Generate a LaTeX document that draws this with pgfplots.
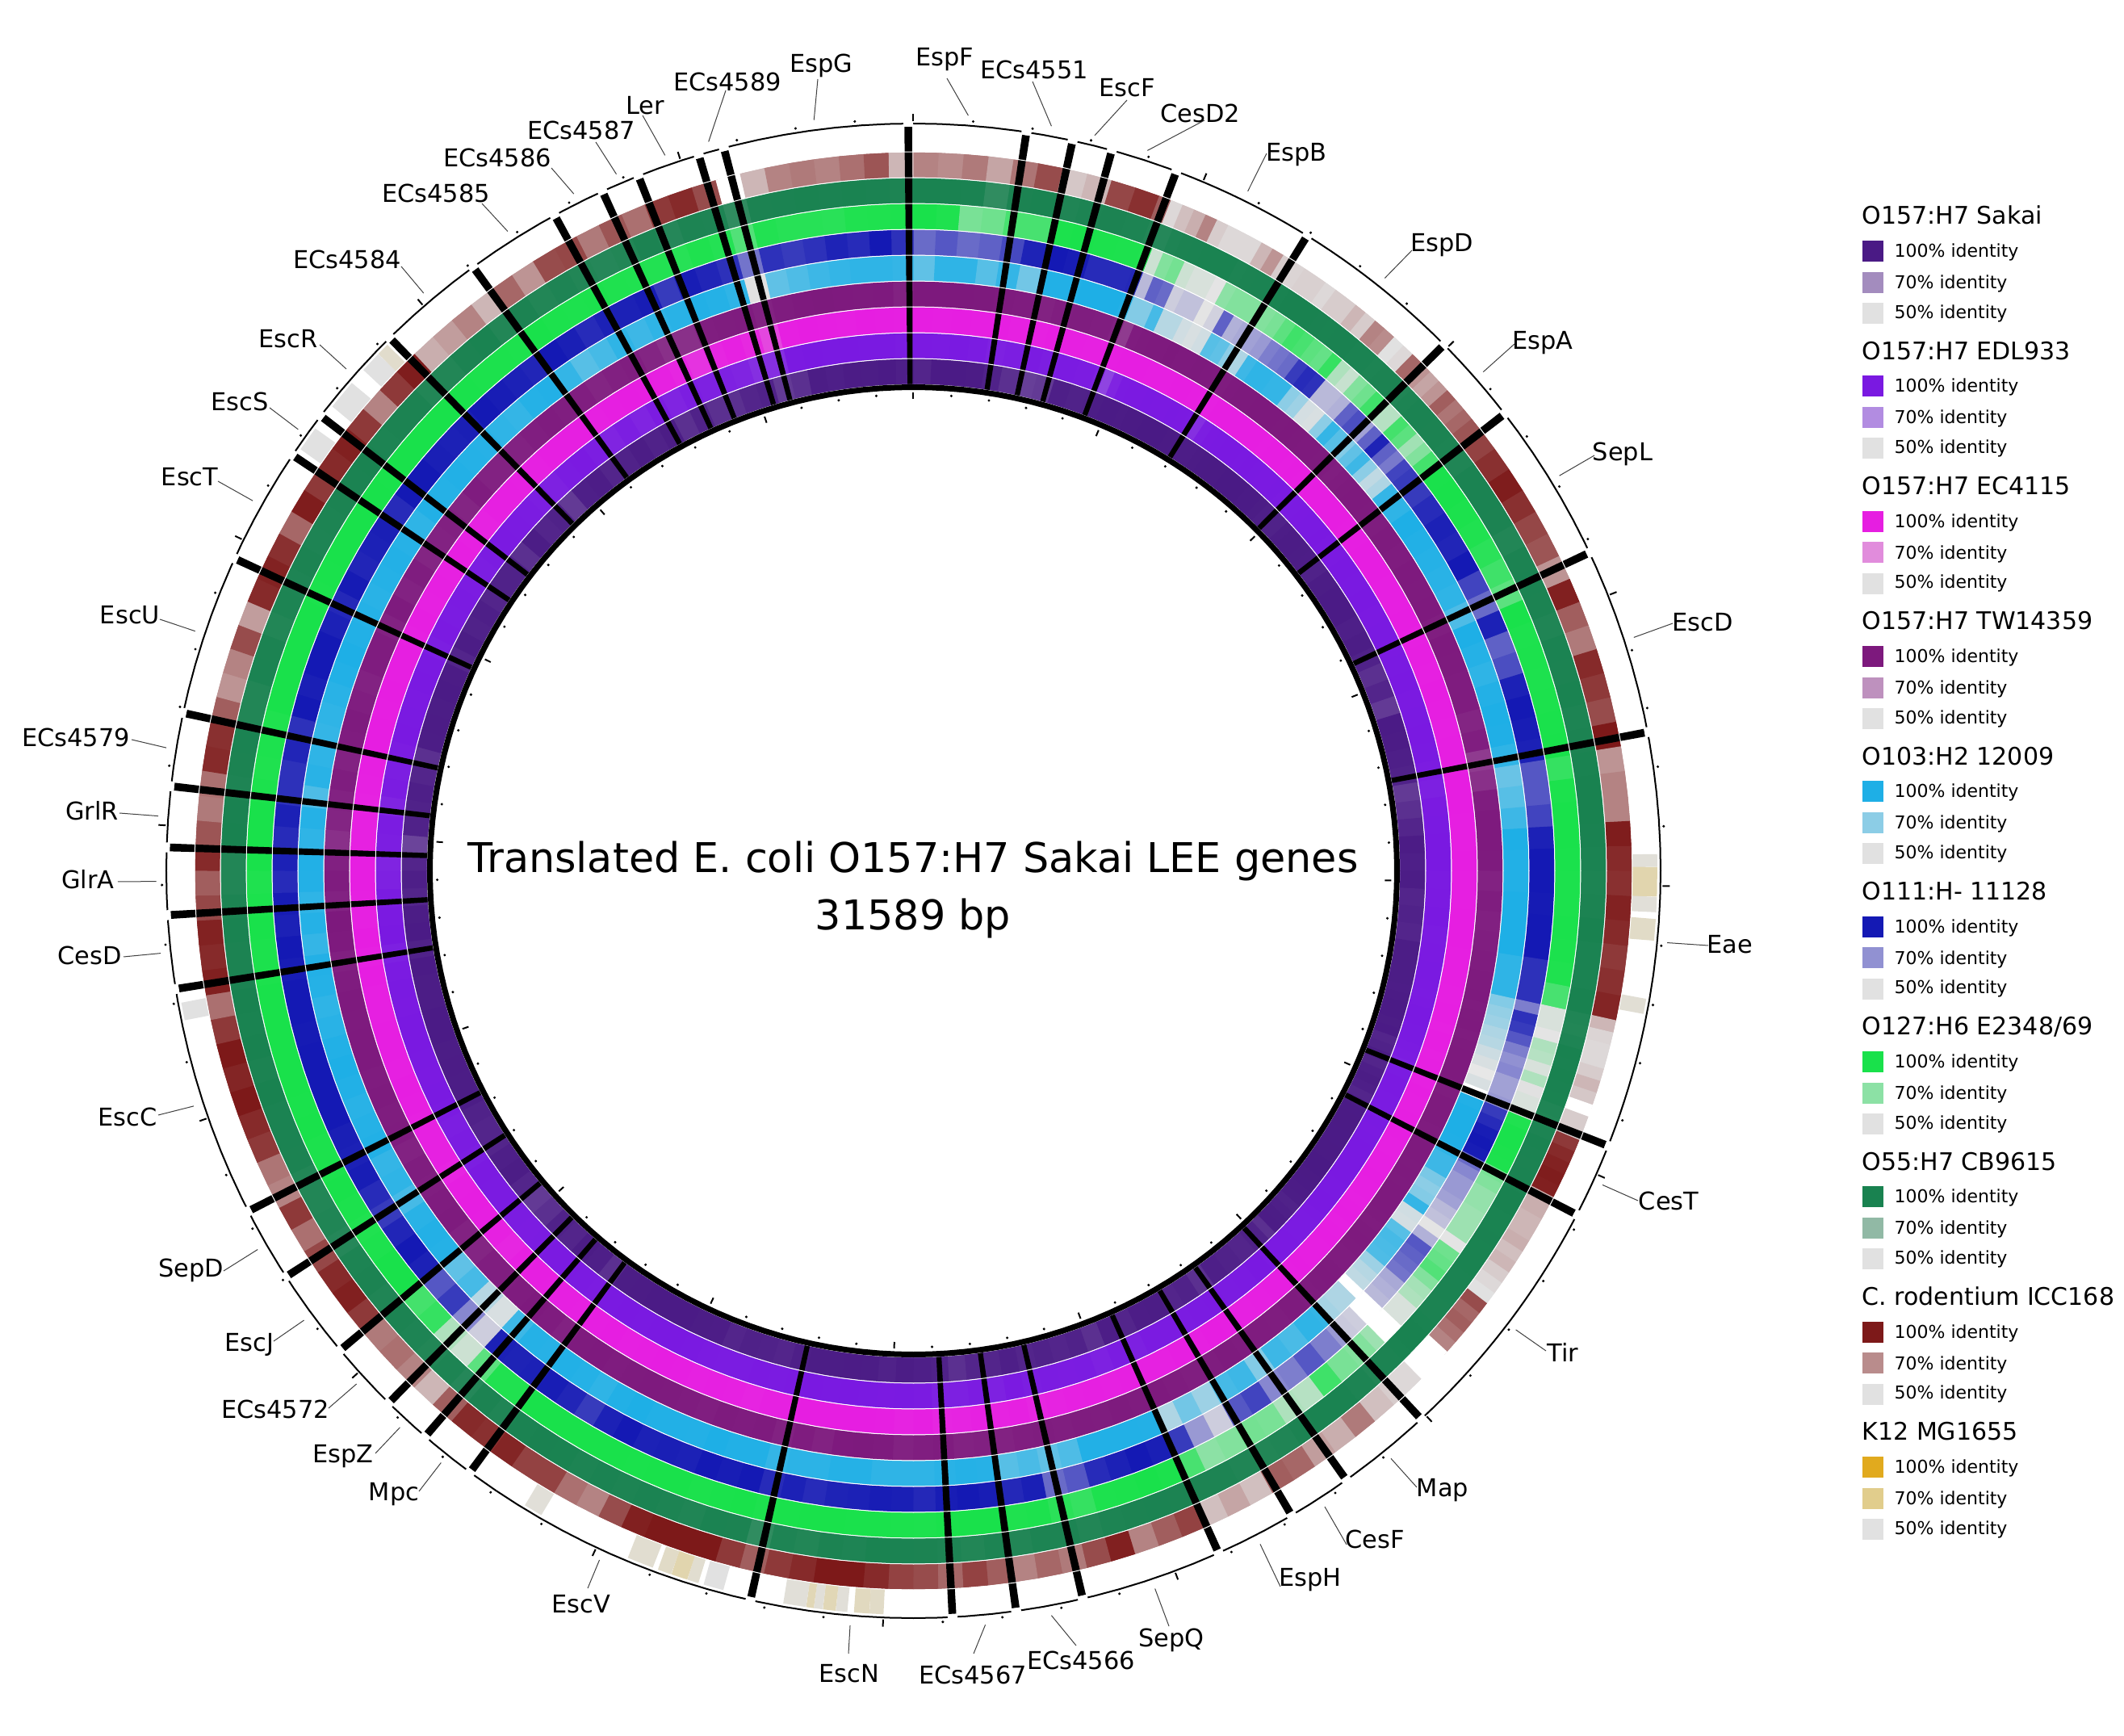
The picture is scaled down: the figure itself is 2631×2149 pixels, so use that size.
\documentclass[border=0pt]{standalone}
\usepackage{fontspec}
\setmainfont{DejaVu Sans}
\usepackage{pgfplots}
\usepackage{pgfplotstable}
\pgfplotsset{compat=1.18}
\usepgfplotslibrary{polar}
\definecolor{gr50}{HTML}{E1E1E1}
\definecolor{s100}{HTML}{4A1A85}\definecolor{s70}{HTML}{A38CBE}
\definecolor{e100}{HTML}{7A19E1}\definecolor{e70}{HTML}{B28CE1}
\definecolor{c100}{HTML}{E61EE1}\definecolor{c70}{HTML}{E18CDC}
\definecolor{t100}{HTML}{7D197D}\definecolor{t70}{HTML}{BE91BE}
\definecolor{o100}{HTML}{1EAFE6}\definecolor{o70}{HTML}{8CCDE6}
\definecolor{b100}{HTML}{1419B4}\definecolor{b70}{HTML}{9191D2}
\definecolor{g100}{HTML}{19E14B}\definecolor{g70}{HTML}{8CE1A5}
\definecolor{d100}{HTML}{198250}\definecolor{d70}{HTML}{91B9A5}
\definecolor{r100}{HTML}{7D1919}\definecolor{r70}{HTML}{B98C8C}
\definecolor{k100}{HTML}{E1AA1E}\definecolor{k70}{HTML}{E1CD8C}
\newcommand\mkmap[3]{\pgfplotsset{colormap={cm#1}{color(0cm)=(white) color(5cm)=(gr50) color(7cm)=(#170) color(9cm)=(#1100!#2!#170) color(9.5cm)=(#1100!#3!#170) color(10cm)=(#1100)}}}
\mkmap{s}{90}{97}\mkmap{e}{90}{97}\mkmap{c}{90}{97}\mkmap{t}{90}{97}\mkmap{d}{90}{97}
\mkmap{o}{80}{92}\mkmap{b}{80}{92}\mkmap{g}{84}{94}\mkmap{r}{80}{92}\mkmap{k}{80}{92}
\pgfplotstableread{
th s e c t o b g d r
0 90 98 100 100 80 78 100 98 72
2 98 97 99 100 92 82 96 98 70
4 98 99 100 100 92 78 74 97 74
6 97 96 99 99 82 80 76 88 64
8 92 92 98 97 90 85 84 96 75
10 88 94 95 96 76 95 84 98 84
12 85 97 96 92 98 100 98 93 56
14 86 94 98 94 98 98 99 95 60
16 94 97 97 95 100 92 98 96 85
18 92 95 96 94 100 92 97 95 90
20 93 92 97 92 97 93 96 92 80
21 96 84 99 86 72 60 55 90 52
22 98 90 100 96 72 80 72 94 58
23 98 97 100 97 86 78 75 96 62
24 97 98 100 98 60 55 55 97 72
25 99 98 99 98 60 58 52 98 55
26 99 99 99 100 54 58 52 98 52
27 100 98 98 98 52 45 45 98 52
28 100 98 100 98 54 54 70 95 52
29 100 99 100 99 82 80 72 96 60
30 99 98 99 98 80 62 72 97 68
31 98 97 97 97 70 64 72 97 55
32 95 88 97 96 62 66 72 98 53
33 95 94 100 98 88 68 74 100 54
34 97 98 100 99 92 74 80 100 54
35 98 99 100 99 92 76 86 100 52
36 99 100 100 100 90 78 84 99 55
37 99 100 100 100 90 88 80 98 55
38 100 99 100 100 70 92 78 99 60
39 100 100 99 99 66 90 88 99 55
40 100 99 100 100 53 60 62 97 72
41 98 98 100 99 52 60 56 97 70
42 98 98 99 98 70 62 72 95 50
43 96 99 100 98 90 80 76 96 52
44 94 97 99 97 82 84 86 96 78
45 92 96 98 96 72 66 60 93 68
46 92 97 100 94 80 80 60 95 64
47 95 98 100 96 88 95 85 97 68
48 97 99 100 97 70 80 80 97 80
49 97 99 100 98 58 75 65 96 75
50 96 100 100 98 62 86 72 96 78
51 95 98 99 97 90 88 85 95 82
52 92 98 98 95 92 88 99 93 86
54 96 100 100 97 100 92 100 97 90
56 98 99 100 96 98 96 98 97 98
58 98 100 98 98 96 94 95 96 90
60 94 98 99 97 94 100 90 92 85
62 96 99 100 98 92 86 86 96 82
64 92 98 97 94 84 78 80 97 68
66 88 99 99 98 100 96 100 96 96
68 90 100 97 97 96 80 97 93 80
70 86 98 100 96 92 84 98 97 74
72 98 99 98 96 97 96 97 96 92
74 97 100 97 90 100 100 98 98 88
76 94 99 98 94 99 98 99 95 84
78 92 95 99 86 92 96 100 96 100
80 86 93 100 88 78 82 88 98 68
82 88 98 100 95 82 82 98 100 72
84 90 99 99 98 88 86 100 100 72
86 97 100 98 98 100 96 100 99 98
88 94 100 100 97 98 100 99 97 92
90 96 97 99 92 98 100 98 95 90
92 90 98 98 95 100 99 98 96 95
94 92 100 100 93 100 100 99 100 92
96 90 97 100 94 100 100 98 97 88
98 96 98 99 96 92 90 96 97 90
100 96 99 98 97 92 90 84 100 94
102 96 98 97 98 72 74 52 93 60
103 95 97 97 96 68 90 52 92 53
104 97 98 98 97 66 88 45 94 52
105 98 100 98 98 62 82 62 100 52
106 98 100 96 96 60 74 60 99 55
107 96 99 98 97 55 70 52 100 60
108 98 99 99 98 52 72 62 99 56
109 90 97 95 98 40 66 50 98 0
110 92 95 97 98 52 66 52 93 55
111 96 92 97 97 0 68 52 92 55
112 90 96 95 95 98 88 95 95 88
113 94 98 98 97 100 92 99 98 92
114 96 98 97 97 100 98 99 97 95
115 94 97 97 97 100 100 98 96 98
116 90 97 98 96 99 98 97 97 96
117 96 96 97 97 92 78 74 97 62
118 98 99 98 98 88 72 72 100 62
119 99 98 97 98 88 68 68 100 60
120 99 99 97 97 74 68 68 98 60
121 98 100 98 98 70 66 66 98 62
122 98 100 99 97 72 60 66 99 58
123 99 100 100 98 90 58 66 98 60
124 99 100 99 98 54 45 45 98 55
125 100 100 98 98 53 62 76 98 52
126 100 99 97 97 82 82 78 97 50
127 99 99 99 96 86 80 82 97 84
128 98 100 100 97 85 78 72 97 78
129 97 100 97 98 84 76 64 96 80
130 96 98 99 97 66 64 62 96 76
131 92 97 100 96 60 62 52 98 72
132 94 97 98 96 58 60 52 100 0
133 96 97 98 97 0 0 0 100 0
134 97 98 99 98 62 0 0 98 0
135 88 98 100 97 62 55 66 96 52
136 92 98 99 96 64 56 72 96 52
137 93 97 98 96 90 68 72 92 55
138 90 100 98 97 92 74 74 95 58
140 92 97 97 95 85 82 86 98 74
142 94 96 96 96 88 74 60 98 62
144 88 98 98 96 72 72 62 96 66
146 92 97 100 97 88 86 74 93 78
148 90 96 97 95 86 82 75 92 80
150 96 97 98 94 66 55 72 93 58
152 95 97 96 96 76 68 70 95 64
154 90 93 96 98 62 88 84 95 58
156 95 96 97 96 97 97 98 96 86
158 88 92 96 97 98 100 100 97 80
160 92 96 97 95 98 96 98 96 72
162 90 95 96 96 98 92 97 95 96
164 92 96 94 94 84 82 88 92 84
166 90 94 92 95 80 78 90 95 74
168 94 98 95 94 85 97 97 95 78
170 90 92 94 92 82 93 96 92 72
172 90 95 96 93 95 98 100 95 80
174 88 93 93 92 96 100 100 92 86
176 92 92 92 96 94 98 99 94 78
178 94 97 97 94 92 93 97 96 84
180 96 99 94 92 92 97 98 97 86
182 92 98 99 97 92 98 99 98 92
184 96 99 100 99 96 96 99 94 100
186 97 100 100 98 96 95 100 96 100
188 96 99 100 92 93 92 100 92 92
190 96 100 100 96 93 96 99 94 88
192 94 98 96 92 90 92 97 88 80
194 90 97 96 97 98 100 100 96 88
196 92 98 93 96 98 98 99 97 100
198 93 96 96 97 100 100 98 93 100
200 90 96 97 94 97 96 100 95 100
202 95 97 96 96 98 97 100 97 96
204 96 99 98 97 98 96 99 95 84
206 98 100 100 98 100 100 100 97 72
208 98 100 98 97 98 96 100 95 76
210 98 99 97 96 92 88 100 98 86
212 97 100 100 98 96 94 100 99 86
214 96 99 99 97 98 98 100 97 94
216 88 95 96 92 95 96 95 93 90
218 94 97 97 96 96 95 95 96 92
220 96 98 97 98 88 96 80 90 80
222 90 98 98 96 52 55 55 95 60
224 92 96 95 94 60 72 62 92 72
226 88 95 92 94 86 88 88 94 76
228 86 96 96 90 80 82 85 96 74
230 90 97 99 92 96 96 100 93 88
232 96 97 100 97 97 100 100 96 96
234 94 98 98 96 94 94 97 95 92
236 90 94 93 94 86 88 95 90 85
238 90 96 95 95 92 92 98 93 76
240 92 94 96 92 90 98 100 92 88
242 96 97 96 96 98 96 98 92 72
244 96 99 98 95 96 97 98 96 75
246 97 98 100 97 94 100 100 97 88
248 96 99 97 96 98 100 99 97 92
250 98 100 99 98 100 100 100 100 100
252 98 100 98 98 98 100 100 96 94
254 96 98 97 97 94 99 100 100 100
256 96 99 97 98 92 100 100 98 88
258 98 97 100 96 96 100 100 100 76
260 92 93 95 93 97 98 98 96 96
262 98 100 100 98 90 100 98 96 92
264 96 98 96 100 96 96 100 98 95
266 90 96 96 92 92 98 98 95 85
268 94 92 100 96 97 92 96 92 80
270 90 90 98 93 98 96 100 92 92
272 84 94 96 88 92 92 100 100 82
274 92 96 96 90 96 96 100 99 74
276 92 90 94 92 84 90 98 94 76
278 94 96 95 95 94 90 96 96 92
280 90 94 97 92 92 94 97 97 90
282 88 95 100 96 90 90 96 92 80
284 96 100 100 97 92 100 100 92 68
286 97 99 98 94 94 97 100 97 72
288 96 98 100 92 98 100 100 96 84
290 98 100 98 96 100 100 100 92 66
292 97 99 99 96 98 96 100 95 92
294 90 94 96 92 96 93 98 94 95
296 96 98 98 97 94 99 99 96 90
298 92 96 96 92 96 94 100 94 78
300 94 97 97 95 97 96 100 95 98
302 90 95 96 90 95 97 100 96 88
304 92 94 98 92 92 92 100 97 92
306 92 96 96 93 98 100 99 98 96
308 88 98 94 90 96 100 100 95 88
310 96 97 97 96 98 97 100 96 72
312 90 96 97 92 96 96 100 96 88
314 92 94 95 92 95 97 100 92 98
316 86 92 96 92 92 100 99 92 62
318 94 96 98 94 90 98 98 96 66
320 95 98 99 96 96 96 98 98 72
322 90 94 98 94 97 94 97 92 60
324 92 90 96 94 90 100 100 96 78
326 96 94 98 90 82 97 98 92 68
328 92 90 100 93 86 92 97 94 84
330 96 95 98 94 92 96 98 92 85
332 88 90 96 90 88 96 96 90 74
334 92 94 92 88 92 98 95 92 82
336 88 92 88 88 94 88 94 96 76
338 88 92 92 94 98 98 92 90 88
340 90 90 96 95 96 94 96 95 92
342 92 88 90 96 92 90 93 94 84
344 86 88 84 92 50 76 82 88 0
346 88 98 97 96 80 90 94 96 60
348 96 100 100 98 84 88 92 97 72
350 94 99 98 99 88 90 92 98 74
352 97 100 97 98 90 95 91 97 72
354 96 99 100 97 92 92 95 98 76
356 98 99 98 98 92 100 96 97 82
358 94 96 97 92 90 90 97 95 60
360 90 98 100 100 80 78 100 98 72
}\ringdata
\pgfplotstableread{
th
4.56
9.12
13.67
18.23
27.35
31.91
36.46
41.02
50.14
54.70
59.25
63.81
72.93
77.49
82.04
86.60
95.72
100.28
104.83
109.39
118.51
123.07
127.62
132.18
141.30
145.86
150.41
154.97
164.09
168.65
173.20
177.76
186.88
191.44
195.99
200.55
209.67
214.23
218.78
223.34
232.46
237.02
241.57
246.13
255.25
259.81
264.36
268.92
278.04
282.60
287.15
291.71
300.83
305.39
309.94
314.50
323.62
328.18
332.73
337.29
346.41
350.97
355.52
}\dottable
\newcommand\ringp[2]{%
  \addplot[mesh,shader=flat corner,colormap name=cm#1,line width=15.5pt,forget plot,point meta=explicit]
  table[x expr=90-\thisrow{th}-0.37,y expr=#2,meta=#1]{\ringdata};
  \addplot[mesh,shader=flat corner,colormap name=cm#1,line width=15.5pt,forget plot,point meta=explicit]
  table[x expr=90-\thisrow{th},y expr=#2,meta=#1]{\ringdata};}
\newcommand\cir[2]{\addplot[forget plot,no marks,#2] table[x expr=90-\thisrow{th},y expr=#1]{\ringdata};}
\newcommand\kp[1]{\addplot[mesh,shader=flat corner,colormap name=cmk,line width=15.5pt,forget plot,point meta=explicit]
  table[x expr=90-\thisrow{th},y expr=906,meta=v,row sep=\\]{th v\\#1};}
\newcommand\lgrp[2]{%
  \addlegendimage{empty legend}\addlegendentry{\hspace*{-20pt}\fontsize{15}{15}\selectfont\rule[-10.15pt]{0pt}{25.15pt}#1}%
  \addlegendimage{swatch,fill=#2100}\addlegendentry{\rule[-9pt]{0pt}{18pt}100\% identity}%
  \addlegendimage{swatch,fill=#270}\addlegendentry{\rule[-8.8pt]{0pt}{17.8pt}70\% identity}%
  \addlegendimage{swatch,fill=gr50}\addlegendentry{\rule[-10.44pt]{0pt}{19.44pt}50\% identity}%
}
\newcommand\lab[6]{% mid angle, end x, end y, label x, label y, text
  \draw[line width=0.5pt,black!75] (C) ++({90-#1}:938) -- (#2,{2149-#3});
  \node[anchor=center,font=\fontsize{15.2}{15.2}\selectfont,inner sep=0pt] at (#4,{2147-#5}) {#6};}
\begin{document}
\begin{tikzpicture}[x=0.5pt,y=0.5pt]
\useasboundingbox (0,0) rectangle (2631,2149);
\coordinate (C) at (1131.5,1070.5);
\begin{polaraxis}[
  at={(C)},anchor=center,scale only axis,width=1000pt,height=1000pt,
  xmin=-270,xmax=90,ymin=0,ymax=1000,clip=false,hide axis,
  point meta min=0,point meta max=100,
  swatch/.style={legend image code/.code={\fill[##1,draw=none] (0pt,-2.7pt) rectangle (13pt,10.3pt);}},
  legend cell align=left,
  legend style={draw=none,fill=none,at={(axis description cs:1.0876,0.9154)},anchor=north west,
    inner sep=0pt,outer sep=0pt,row sep=0pt,column sep=7pt,
    font=\fontsize{11}{11}\selectfont,nodes={inner sep=0pt,outer sep=0pt,text depth=}},
]
\ringp{s}{618.5}\ringp{e}{650.5}\ringp{c}{682.5}\ringp{t}{714.5}\ringp{o}{746.5}
\ringp{b}{778.5}\ringp{g}{810.5}\ringp{d}{842.5}\ringp{r}{874.5}
% K12 MG1655 hits
\kp{88.7 52\\89.7 62\\92 52\\93.2 52\\}
\kp{93.7 56\\95.4 56\\}
\kp{99.9 53\\101.1 53\\}
\kp{182.3 56\\183.4 58\\184.6 58\\}
\kp{185.1 52\\186 60\\187 52\\187.7 60\\188.3 52\\190.1 52\\}
\kp{194.8 50\\196.4 50\\}
\kp{196.8 54\\197.7 62\\199 56\\200.1 56\\}
\kp{200.5 54\\202.6 54\\}
\kp{210 52\\211.5 52\\}
\kp{258.4 50\\259.8 50\\}
\kp{304.5 50\\306.5 50\\}
\kp{308.6 50\\311 50\\}
\kp{312.3 50\\314 55\\315 60\\}
% gene boundaries
\pgfplotsinvokeforeach{-0.4,8.7,12.3,15.4,20.6,31.8,45.25,52.3,64.8,79.3,111.6,117.4,137.2,144.6,149.6,155.9,166.9,172.1,177,192.6,216.4,220.8,224.6,230.1,237.1,242.9,260.9,266.6,271.8,276.5,282.2,294.7,303.8,307.5,315.5,323.9,331.3,335.4,338.4,343.3,345.3}{
  \pgfmathsetmacro\aL{90-#1-0.3}\pgfmathsetmacro\aR{90-#1+0.3}
  \addplot[forget plot,fill=black,draw=none,no marks] coordinates {(\aL,603)(\aR,603)(\aR,921.5)(\aL,921.5)} --cycle;
}
% ring separators and circles
\cir{634.5}{white,line width=0.5pt}\cir{666.5}{white,line width=0.5pt}\cir{698.5}{white,line width=0.5pt}
\cir{730.5}{white,line width=0.5pt}\cir{762.5}{white,line width=0.5pt}\cir{794.5}{white,line width=0.5pt}
\cir{826.5}{white,line width=0.5pt}\cir{858.5}{white,line width=0.5pt}\cir{890.5}{white,line width=0.5pt}
\cir{599}{black,line width=3.5pt}
\cir{925.5}{black,line width=1pt}
\pgfplotsinvokeforeach{-0.4,8.7,12.3,15.4,20.6,31.8,45.25,52.3,64.8,79.3,111.6,117.4,137.2,144.6,149.6,155.9,166.9,172.1,177,192.6,216.4,220.8,224.6,230.1,237.1,242.9,260.9,266.6,271.8,276.5,282.2,294.7,303.8,307.5,315.5,323.9,331.3,335.4,338.4,343.3,345.3}{
  \pgfmathsetmacro\aL{90-#1-0.38}\pgfmathsetmacro\aR{90-#1+0.38}
  \addplot[forget plot,fill=white,draw=none,no marks] coordinates {(\aL,922)(\aR,922)(\aR,929)(\aL,929)} --cycle;
}
% scale ticks
\addplot[forget plot,only marks,mark=*,mark size=0.55pt,black] table[x index=0,y index=0,x expr=90-\thisrow{th},y expr=931]{\dottable};
\addplot[forget plot,only marks,mark=*,mark size=0.55pt,black] table[x index=0,y index=0,x expr=90-\thisrow{th},y expr=590]{\dottable};
\pgfplotsinvokeforeach{0,22.79,45.58,68.37,91.16,113.95,136.74,159.53,182.32,205.11,227.9,250.69,273.48,296.27,319.06,341.85}{
  \pgfmathsetmacro\aM{90-#1}
  \addplot[forget plot,black,line width=1pt,no marks] coordinates {(\aM,928)(\aM,937)};
  \addplot[forget plot,black,line width=1pt,no marks] coordinates {(\aM,584)(\aM,592)};
}
\lgrp{O157:H7 Sakai}{s}\lgrp{O157:H7 EDL933}{e}\lgrp{O157:H7 EC4115}{c}\lgrp{O157:H7 TW14359}{t}
\lgrp{O103:H2 12009}{o}\lgrp{O111:H- 11128}{b}\lgrp{O127:H6 E2348/69}{g}\lgrp{O55:H7 CB9615}{d}
\lgrp{C. rodentium ICC168}{r}\lgrp{K12 MG1655}{k}
\end{polaraxis}
\node[font=\fontsize{25.4}{25.4}\selectfont,inner sep=0pt] at (1131,{2149-1066}) {Translated E. coli O157:H7 Sakai LEE genes};
\node[font=\fontsize{25.4}{25.4}\selectfont,inner sep=0pt] at (1131,{2149-1137}) {31589 bp};
\lab{4.15}{1173}{97}{1170}{72}{EspF}
\lab{10.5}{1279}{101}{1281}{84}{ECs4551}
\lab{13.85}{1396}{124}{1396}{107}{EscF}
\lab{18}{1492}{149}{1487}{138}{CesD2}
\lab{26.2}{1569}{190}{1606}{190}{EspB}
\lab{38.5}{1749}{310}{1786}{302}{EspD}
\lab{48.8}{1876}{426}{1911}{423}{EspA}
\lab{58.55}{1975}{564}{2010}{560}{SepL}
\lab{72.05}{2072}{772}{2109}{769}{EscD}
\lab{95.45}{2116}{1171}{2143}{1168}{Eae}
\lab{114.5}{2029}{1487}{2067}{1485}{CesT}
\lab{127.3}{1915}{1673}{1936}{1673}{Tir}
\lab{140.9}{1755}{1842}{1787}{1844}{Map}
\lab{147.1}{1668}{1913}{1703}{1904}{CesF}
\lab{152.75}{1586}{1965}{1623}{1955}{EspH}
\lab{161.4}{1448}{2014}{1451}{2029}{SepQ}
\lab{169.5}{1333}{2038}{1339}{2054}{ECs4566}
\lab{174.55}{1206}{2048}{1205}{2072}{ECs4567}
\lab{184.8}{1051}{2048}{1052}{2071}{EscN}
\lab{204.5}{728}{1967}{720}{1985}{EscV}
\lab{218.6}{519}{1847}{488}{1849}{Mpc}
\lab{222.7}{465}{1800}{425}{1802}{EspZ}
\lab{227.35}{407}{1744}{341}{1743}{ECs4572}
\lab{233.6}{339}{1661}{309}{1663}{EscJ}
\lab{240}{277}{1574}{237}{1571}{SepD}
\lab{251.9}{196}{1381}{158}{1381}{EscC}
\lab{263.75}{153}{1185}{111}{1181}{CesD}
\lab{269.2}{146}{1092}{109}{1087}{GlrA}
\lab{274.15}{148}{1007}{114}{1002}{GrlR}
\lab{279.35}{163}{916}{94}{911}{ECs4579}
\lab{288.45}{198}{767}{161}{760}{EscU}
\lab{299.25}{270}{596}{235}{589}{EscT}
\lab{305.65}{334}{505}{297}{495}{EscS}
\lab{311.5}{396}{427}{357}{418}{EscR}
\lab{319.7}{497}{330}{430}{319}{ECs4584}
\lab{327.6}{597}{252}{540}{237}{ECs4585}
\lab{333.35}{683}{208}{616}{193}{ECs4586}
\lab{336.9}{738}{176}{720}{159}{ECs4587}
\lab{340.85}{796}{143}{799}{129}{Ler}
\lab{344.3}{899}{112}{901}{99}{ECs4589}
\lab{352.45}{1013}{98}{1017}{79}{EspG}
\end{tikzpicture}
\end{document}
